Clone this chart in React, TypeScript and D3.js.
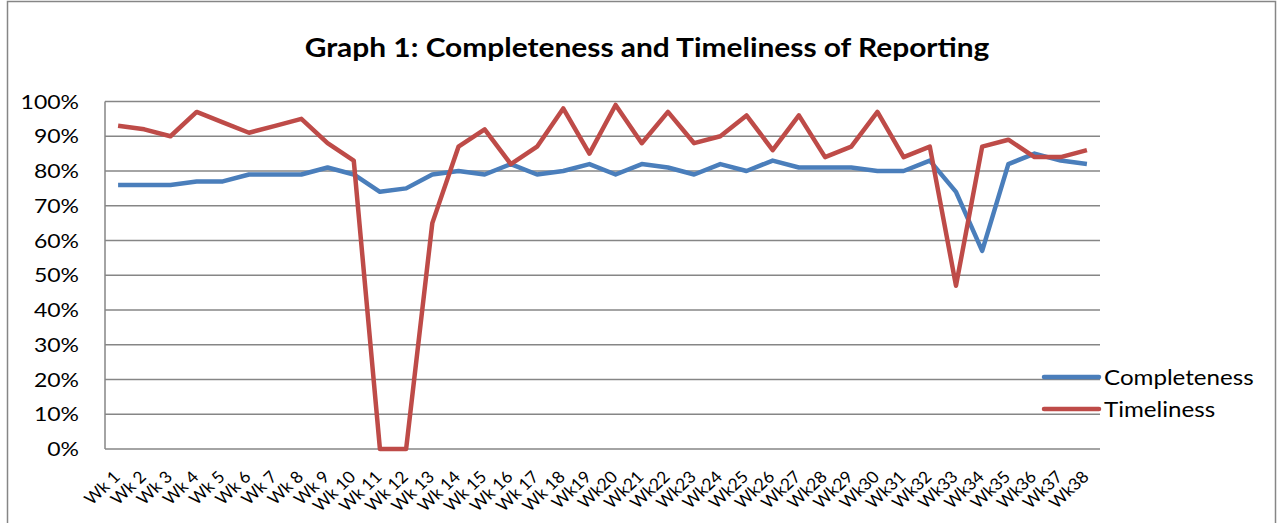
import * as d3 from "d3";

const weeks = [
  "Wk 1", "Wk 2", "Wk 3", "Wk 4", "Wk 5", "Wk 6", "Wk 7", "Wk 8", "Wk 9", "Wk 10",
  "Wk 11", "Wk 12", "Wk 13", "Wk 14", "Wk 15", "Wk 16", "Wk 17", "Wk 18", "Wk19", "Wk20",
  "Wk21", "Wk22", "Wk23", "Wk24", "Wk25", "Wk26", "Wk27", "Wk28", "Wk29", "Wk30",
  "Wk31", "Wk32", "Wk33", "Wk34", "Wk35", "Wk36", "Wk37", "Wk38",
];
const completeness = [
  76, 76, 76, 77, 77, 79, 79, 79, 81, 79,
  74, 75, 79, 80, 79, 82, 79, 80, 82, 79,
  82, 81, 79, 82, 80, 83, 81, 81, 81, 80,
  80, 83, 74, 57, 82, 85, 83, 82,
];
const timeliness = [
  93, 92, 90, 97, 94, 91, 93, 95, 88, 83,
  0, 0, 65, 87, 92, 82, 87, 98, 85, 99,
  88, 97, 88, 90, 96, 86, 96, 84, 87, 97,
  84, 87, 47, 87, 89, 84, 84, 86,
];
const yTicks = [0, 10, 20, 30, 40, 50, 60, 70, 80, 90, 100];
const series = [
  { name: "Completeness", values: completeness, color: "#4a7ebb" },
  { name: "Timeliness", values: timeliness, color: "#be4b48" },
];

const W = 1280;
const H = 523;
const plot = { left: 105, right: 1100, top: 101.5, bottom: 449 };
const font = "Lato, 'Open Sans', sans-serif";
// the picture's text looks stretched sideways a little
const sx = 1.15;

export default function App() {
  const x = d3.scaleBand<string>()
    .domain(weeks)
    .range([plot.left, plot.right]);
  const y = d3.scaleLinear()
    .domain([0, 100])
    .range([plot.bottom, plot.top]);
  const cx = (w: string) => (x(w) ?? 0) + x.bandwidth() / 2;

  const line = d3.line<number>()
    .x((_, i) => cx(weeks[i]))
    .y(d => y(d));

  return (
    <svg width={W} height={H} style={{ position: "absolute", left: 0, top: 0 }} fontFamily={font}>
      <rect x={0} y={0} width={W} height={H} fill="#fff" />
      <rect x={7.5} y={1.5} width={1268} height={530} fill="none" stroke="#868686" strokeWidth={1.5} />
      <text transform={`translate(647,57) scale(${sx},1)`} textAnchor="middle" fontSize={26}
        fontWeight="bold" fill="#000">
        Graph 1: Completeness and Timeliness of Reporting
      </text>

      {yTicks.map(t => (
        <g key={t}>
          <line x1={plot.left} x2={plot.right} y1={y(t)} y2={y(t)} stroke="#868686" strokeWidth={1.5} />
          <text transform={`translate(79,${y(t)}) scale(${sx},1)`} dy="0.36em" textAnchor="end"
            fontSize={20} fill="#000">{t}%</text>
        </g>
      ))}
      <line x1={plot.left} x2={plot.left} y1={plot.top} y2={plot.bottom} stroke="#868686" strokeWidth={1.5} />

      {weeks.map(w => (
        <text key={w}
          transform={`translate(${cx(w) + 3},${plot.bottom + 29}) scale(1.06,1) rotate(-45)`}
          textAnchor="end" fontSize={16.5} fill="#000">{w}</text>
      ))}

      {series.map(s => (
        <path key={s.name} d={line(s.values) ?? ""} fill="none" stroke={s.color}
          strokeWidth={4.5} strokeLinejoin="round" />
      ))}

      {series.map((s, i) => (
        <g key={s.name} transform={`translate(1044,${377 + i * 32})`}>
          <line x1={0} x2={55} y1={0} y2={0} stroke={s.color} strokeWidth={4.5} strokeLinecap="round" />
          <text transform={`translate(60,0) scale(${sx},1)`} dy="0.36em" fontSize={21} fill="#000">
            {s.name}
          </text>
        </g>
      ))}
    </svg>
  );
}
